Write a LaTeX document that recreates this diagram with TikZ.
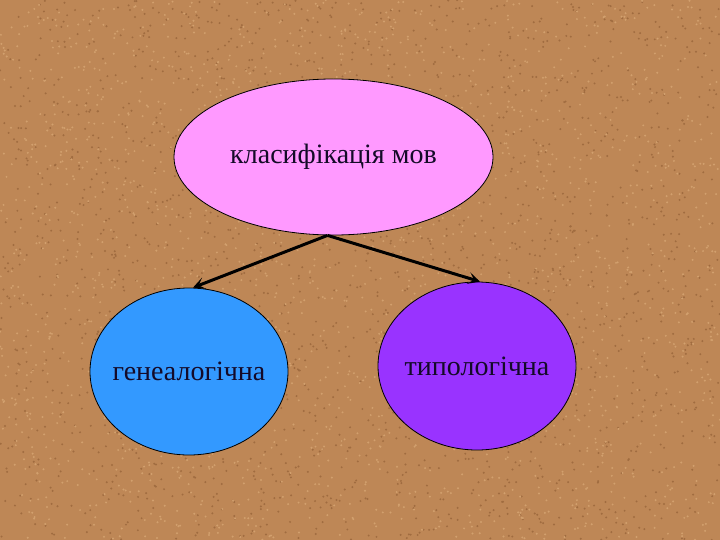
\documentclass[tikz,border=0pt]{standalone}
\usepackage{fontspec}
\setmainfont{Liberation Serif}
\usetikzlibrary{shapes.geometric,arrows.meta}
\definecolor{bgbrown}{RGB}{190,135,86}
\definecolor{bgdark}{RGB}{160,108,64}
\definecolor{bglight}{RGB}{210,160,110}
\definecolor{pinkfill}{RGB}{255,153,255}
\definecolor{bluefill}{RGB}{51,153,255}
\definecolor{purplefill}{RGB}{153,51,255}
\definecolor{textdark}{RGB}{20,10,40}
\tikzset{
  blob/.style={ellipse, draw=black, line width=0.8pt, inner sep=0pt},
  blobtext/.style={text=textdark, font=\fontsize{28}{32}\selectfont, inner sep=0pt},
  link/.style={line width=3pt, -{Stealth[length=12pt,width=12pt,inset=6pt]}},
}
\begin{document}
\begin{tikzpicture}[x=1pt,y=-1pt]
\useasboundingbox (0,0) rectangle (720,540);
\begin{scope}
\clip (0,0) rectangle (720,540);
\fill[bgbrown] (0,0) rectangle (720,540);
\pgfmathsetseed{7}
\foreach \i in {1,...,2000}{
  \fill[bgdark] (rnd*720,rnd*540) circle (1.1pt);
}
\foreach \i in {1,...,2000}{
  \fill[bglight] (rnd*720,rnd*540) circle (1.1pt);
}
\end{scope}
\node[blob, fill=pinkfill, minimum width=319pt, minimum height=156pt,
      label={[blobtext, name=toptext]center:класифікація мов}] (top) at (333.5,157) {};
\node[blob, fill=bluefill, minimum width=198pt, minimum height=167pt,
      label={[blobtext, name=lefttext]center:генеалогічна}] (left) at (189,371.5) {};
\node[blob, fill=purplefill, minimum width=198pt, minimum height=168pt,
      label={[blobtext, name=righttext]center:типологічна}] (right) at (477,366) {};
\coordinate (apex) at ([xshift=-6pt]top.south);
\draw[link] (apex) -- ([xshift=4pt]left.north);
\draw[link] (apex) -- ([xshift=3pt]right.north);
\end{tikzpicture}
\end{document}
